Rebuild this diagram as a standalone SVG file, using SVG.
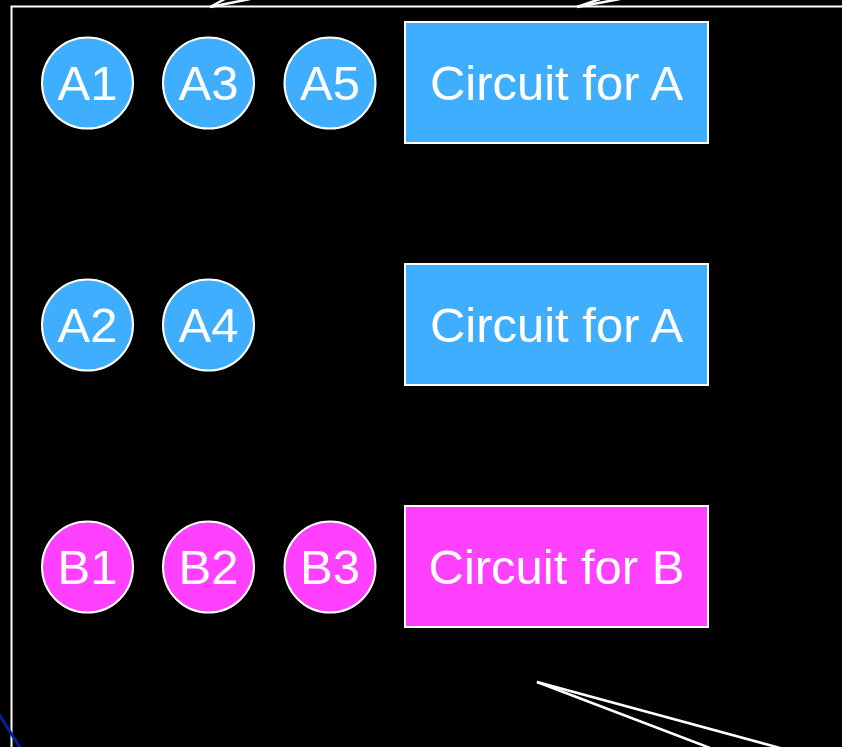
<svg xmlns="http://www.w3.org/2000/svg" width="842" height="747" viewBox="0 0 842 747">
<style>
.circA{fill:#40AEFF;stroke:#fff;stroke-width:2}
.circB{fill:#FF40FF;stroke:#fff;stroke-width:2}
.boxA{fill:#40AEFF;stroke:#fff;stroke-width:2}
.boxB{fill:#FF40FF;stroke:#fff;stroke-width:2}
text{font-family:"Liberation Sans",Arial,sans-serif;font-size:49px;fill:#fff;text-anchor:middle;dominant-baseline:central}
.ln{stroke:#fff;stroke-width:2.5;fill:none}
</style>
<rect x="0" y="0" width="842" height="747" fill="#000"/>
<rect id="frame" x="11.5" y="6.5" width="840" height="760" fill="none" stroke="#fff" stroke-width="2"/>
<g id="connectors">
<line class="ln" x1="210" y1="7" x2="250" y2="-1"/>
<line class="ln" x1="210" y1="7" x2="225" y2="-1"/>
<line class="ln" x1="577" y1="7" x2="620" y2="-1"/>
<line class="ln" x1="577" y1="7" x2="600" y2="-1"/>
<line class="ln" x1="537" y1="682" x2="710" y2="748"/>
<line class="ln" x1="537" y1="682" x2="780" y2="748"/>
<line x1="-2" y1="713" x2="21" y2="749" stroke="#0A1E9A" stroke-width="3"/>
</g>
<g id="A1"><circle class="circA" cx="87.5" cy="83" r="45.5"/><text x="87.5" y="83">A1</text></g>
<g id="A3"><circle class="circA" cx="208.5" cy="83" r="45.5"/><text x="208.5" y="83">A3</text></g>
<g id="A5"><circle class="circA" cx="330" cy="83" r="45.5"/><text x="330" y="83">A5</text></g>
<g id="A2"><circle class="circA" cx="87.5" cy="325" r="45.5"/><text x="87.5" y="325">A2</text></g>
<g id="A4"><circle class="circA" cx="208.5" cy="325" r="45.5"/><text x="208.5" y="325">A4</text></g>
<g id="B1"><circle class="circB" cx="87.5" cy="567" r="45.5"/><text x="87.5" y="567">B1</text></g>
<g id="B2"><circle class="circB" cx="208.5" cy="567" r="45.5"/><text x="208.5" y="567">B2</text></g>
<g id="B3"><circle class="circB" cx="330" cy="567" r="45.5"/><text x="330" y="567">B3</text></g>
<g id="circuitA1"><rect class="boxA" x="405" y="22" width="303" height="121"/><text x="556.5" y="83">Circuit for A</text></g>
<g id="circuitA2"><rect class="boxA" x="405" y="264" width="303" height="121"/><text x="556.5" y="325">Circuit for A</text></g>
<g id="circuitB"><rect class="boxB" x="405" y="506" width="303" height="121"/><text x="556.5" y="567">Circuit for B</text></g>
</svg>
